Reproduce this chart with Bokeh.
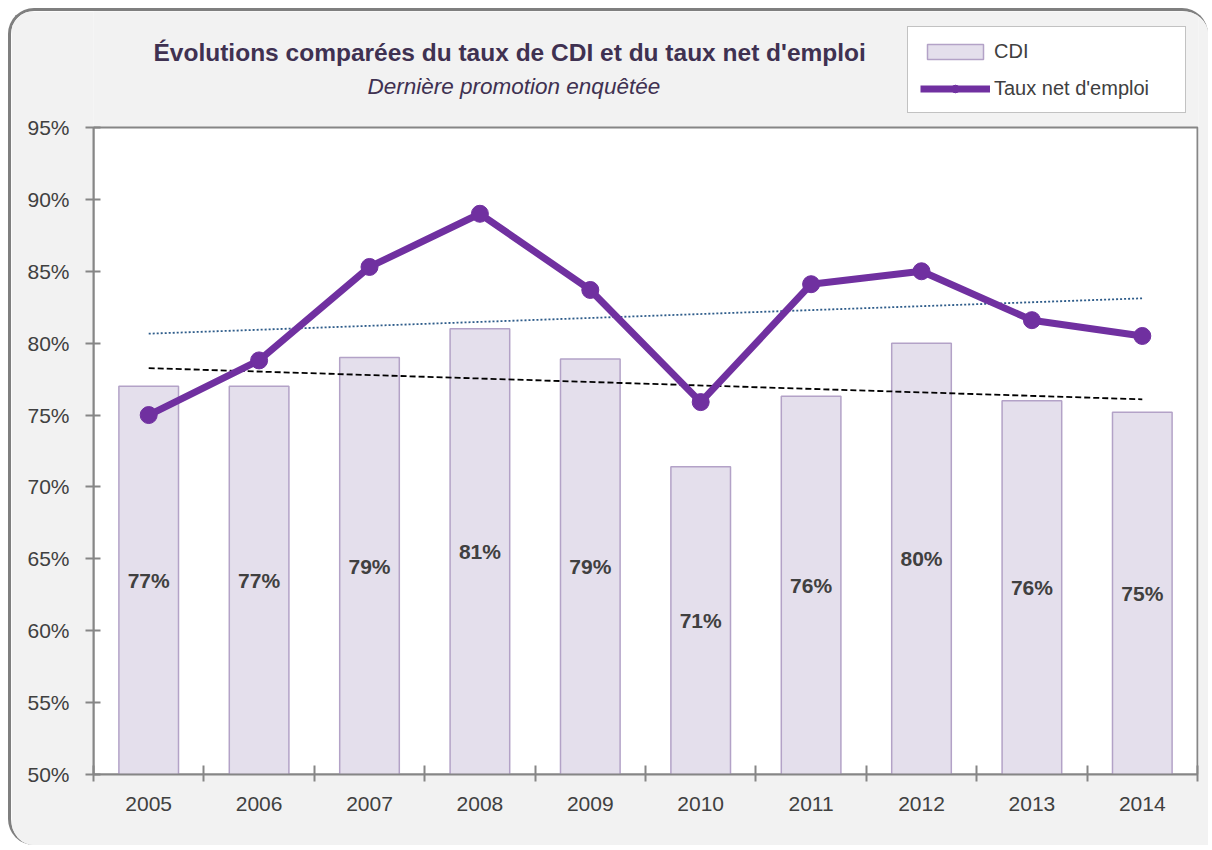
import numpy as np
from bokeh.plotting import figure
from bokeh.models import (Range1d, FixedTicker, CustomJSTickFormatter, PrintfTickFormatter,
                          Label, Legend, LegendItem, ColumnDataSource)
from bokeh.core.properties import value
from bokeh.embed import file_html
from bokeh.resources import INLINE

# ---------------- data ----------------
years = ["2005", "2006", "2007", "2008", "2009", "2010", "2011", "2012", "2013", "2014"]
cdi = [77.0, 77.0, 79.0, 81.0, 78.9, 71.4, 76.3, 80.0, 76.0, 75.2]
cdi_labels = ["77%", "77%", "79%", "81%", "79%", "71%", "76%", "80%", "76%", "75%"]
taux_emploi = [75.0, 78.8, 85.3, 89.0, 83.7, 75.9, 84.1, 85.0, 81.6, 80.5]
y_ticks = [50, 55, 60, 65, 70, 75, 80, 85, 90, 95]

title_text = "Évolutions comparées du taux de CDI et du taux net d'emploi"
subtitle_text = "Dernière promotion enquêtée"
legend_labels = ["CDI", "Taux net d'emploi"]

# ---------------- style ----------------
PURPLE = "#7030a0"
BAR_FILL = "#e4dfec"
BAR_LINE = "#b3a2c7"
AXIS = "#868686"
TXT = "#404040"
BG = "#f2f2f2"
FONT = "Liberation Sans"
MARKER = 17

# page geometry (pixels)
ORG = 11                      # canvas origin on page (8px margin + 3px border)
F_L, F_R, F_T, F_B = 93, 1197, 127, 774   # plot area (white box) on page
W, H = 1200, 837
Y0, Y1 = 50, 95
N = len(years)
PX_PER_Y = (F_B - F_T) / (Y1 - Y0)
PX_PER_X = (F_R - F_L) / N
Y_TOP = Y0 + (F_B - ORG) / PX_PER_Y          # frame extends to the canvas top
X_END = N + 1.0 / PX_PER_X                    # one pixel of room for the right border

# legend box geometry
LEG_LEFT, LEG_TOP = 907, 28
LEG_PAD, LEG_SPACING, LEG_LH, LEG_GW, LEG_GH = 12, 13, 24, 70, 19
LEG_H = 2 * LEG_PAD + 2 * LEG_LH + LEG_SPACING


def px_x(px):
    return (px - F_L) / PX_PER_X


def px_y(py):
    return Y0 + (F_B - py) / PX_PER_Y


p = figure(width=W, height=H, output_backend="svg", toolbar_location=None, title=None,
           x_range=Range1d(0, X_END), y_range=Range1d(Y0, Y_TOP),
           min_border_left=F_L - ORG, min_border_right=W - (F_R + 1 - ORG),
           min_border_top=0, min_border_bottom=H - (F_B - ORG),
           background_fill_color=BG, border_fill_color=BG)
p.styles = {"margin-left": "8px", "margin-top": "8px",
            "border-top": "3px solid #7f7f7f", "border-left": "3px solid #7f7f7f",
            "border-top-left-radius": "26px", "border-bottom-left-radius": "26px",
            "border-top-right-radius": "26px", "overflow": "hidden"}
p.xgrid.visible = False
p.ygrid.visible = False
p.outline_line_color = None

# white plot area with its grey frame
p.quad(left=[0], right=[N], bottom=[Y0], top=[Y1], fill_color="white",
       line_color=AXIS, line_width=2)

xs = [i + 0.5 for i in range(N)]
src = ColumnDataSource(dict(x=xs, cdi=cdi, taux=taux_emploi, lab=cdi_labels,
                            mid=[(Y0 + v) / 2 for v in cdi]))

# bars
bars = p.vbar(x="x", top="cdi", bottom=Y0, width=0.54, source=src,
              fill_color=BAR_FILL, line_color=BAR_LINE, line_width=1.5)

# trend lines (linear regressions)
xi = np.arange(N)
c1 = np.polyfit(xi, cdi, 1)
c2 = np.polyfit(xi, taux_emploi, 1)
ends = np.array([0, N - 1])
p.line([xs[0], xs[-1]], list(np.polyval(c1, ends)), line_color="black",
       line_width=1.8, line_dash="6 3")
p.line([xs[0], xs[-1]], list(np.polyval(c2, ends)), line_color="#2e5c8a",
       line_width=1.8, line_dash="2 2")

# taux net d'emploi
ln = p.line("x", "taux", source=src, line_color=PURPLE, line_width=7)
sc = p.scatter("x", "taux", source=src, size=MARKER, fill_color=PURPLE, line_color=PURPLE)

# value labels
p.text("x", "mid", text="lab", source=src, text_align="center", text_baseline="middle",
       text_font=value(FONT), text_font_style="bold", text_font_size="21px",
       text_color=TXT)

# axes
p.xaxis.ticker = FixedTicker(ticks=xs, minor_ticks=list(range(N + 1)))
p.xaxis.formatter = CustomJSTickFormatter(args=dict(labels=years),
                                          code="return labels[Math.floor(tick)] || ''")
p.xaxis.bounds = (0, N)
p.xaxis.major_tick_in = 0
p.xaxis.major_tick_out = 0
p.xaxis.minor_tick_in = 9
p.xaxis.minor_tick_out = 7
p.xaxis.minor_tick_line_color = AXIS
p.xaxis.minor_tick_line_width = 2
p.xaxis.major_label_standoff = 15

p.yaxis.ticker = FixedTicker(ticks=y_ticks)
p.yaxis.formatter = PrintfTickFormatter(format="%d%%")
p.yaxis.bounds = (Y0, Y1)
p.yaxis.major_tick_in = 7
p.yaxis.major_tick_out = 8
p.yaxis.major_label_standoff = 16

for ax in (p.xaxis[0], p.yaxis[0]):
    ax.axis_line_color = AXIS
    ax.axis_line_width = 2
    ax.major_tick_line_color = AXIS
    ax.major_tick_line_width = 2
    ax.major_label_text_font = FONT
    ax.major_label_text_font_size = "21px"
    ax.major_label_text_color = TXT

# titles
p.add_layout(Label(x=px_x(153), y=px_y(52), text=title_text, text_align="left",
                   text_baseline="middle", text_font=FONT, text_font_style="bold",
                   text_font_size="24.5px", text_color="#3f3151"))
p.add_layout(Label(x=px_x(367), y=px_y(86), text=subtitle_text, text_align="left",
                   text_baseline="middle", text_font=FONT, text_font_style="italic",
                   text_font_size="22.5px", text_color="#3f3151"))

# legend
legend = Legend(items=[LegendItem(label=legend_labels[0], renderers=[bars]),
                       LegendItem(label=legend_labels[1], renderers=[ln, sc])],
                location=(LEG_LEFT - F_L, F_B - (LEG_TOP + LEG_H)), margin=0,
                padding=LEG_PAD, spacing=LEG_SPACING,
                glyph_width=LEG_GW, glyph_height=LEG_GH, label_height=LEG_LH,
                label_width=277 - 2 * LEG_PAD - LEG_GW - 4,
                label_standoff=4, border_line_color=AXIS, border_line_width=1.5,
                background_fill_color="white", background_fill_alpha=1,
                label_text_font=FONT, label_text_font_size="20px", label_text_color=TXT)
p.add_layout(legend)

open("out.html", "w").write(file_html(p, INLINE))
